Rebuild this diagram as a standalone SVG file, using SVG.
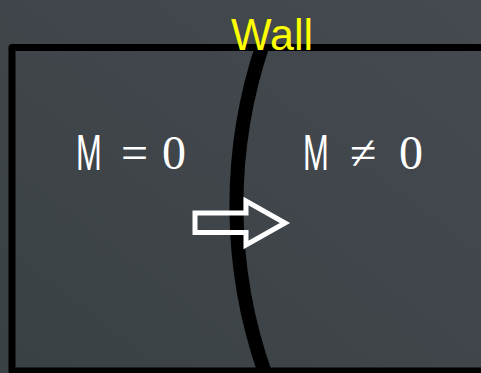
<svg xmlns="http://www.w3.org/2000/svg" width="481" height="373" viewBox="0 0 481 373">
  <defs>
    <linearGradient id="bg" x1="0" y1="1" x2="1" y2="0">
      <stop offset="0" stop-color="#3a4144"/>
      <stop offset="1" stop-color="#454a50"/>
    </linearGradient>
    <style>
      .line { fill: none; stroke: #000; stroke-linejoin: round; }
      .lbl { fill: #ffffff; }
      .math { font-family: "Liberation Serif", "DejaVu Serif", serif; font-size: 48px; }
      .sans { font-family: "Liberation Sans", "DejaVu Sans", sans-serif; font-size: 50px; }
    </style>
  </defs>
  <rect x="0" y="0" width="481" height="373" fill="url(#bg)"/>
  <g id="wall">
    <path class="line" d="M263,44 A505,505 0 0 0 266,376" stroke-width="14"/>
  </g>
  <g id="box">
    <path class="line" d="M490,47.5 H12 V371 H490" stroke-width="7"/>
  </g>
  <g id="wall-label">
    <text x="231" y="50" font-family="Liberation Sans, DejaVu Sans, sans-serif" font-size="44" fill="#ffff00" textLength="82" lengthAdjust="spacingAndGlyphs">Wall</text>
  </g>
  <g id="region-left">
    <text class="lbl sans" transform="translate(76,170) scale(0.62,1)" x="0" y="0">M</text>
    <text class="lbl math" x="121" y="169">=</text>
    <text class="lbl math" x="162" y="169">0</text>
  </g>
  <g id="region-right">
    <text class="lbl sans" transform="translate(303,170) scale(0.62,1)" x="0" y="0">M</text>
    <text class="lbl math" x="350" y="169">≠</text>
    <text class="lbl math" x="399" y="169">0</text>
  </g>
  <g id="connectors">
    <polygon points="195,213 246,213 246,201 285,223 246,245 246,232.5 195,232.5" fill="none" stroke="#ffffff" stroke-width="5" stroke-linejoin="miter"/>
  </g>
</svg>
